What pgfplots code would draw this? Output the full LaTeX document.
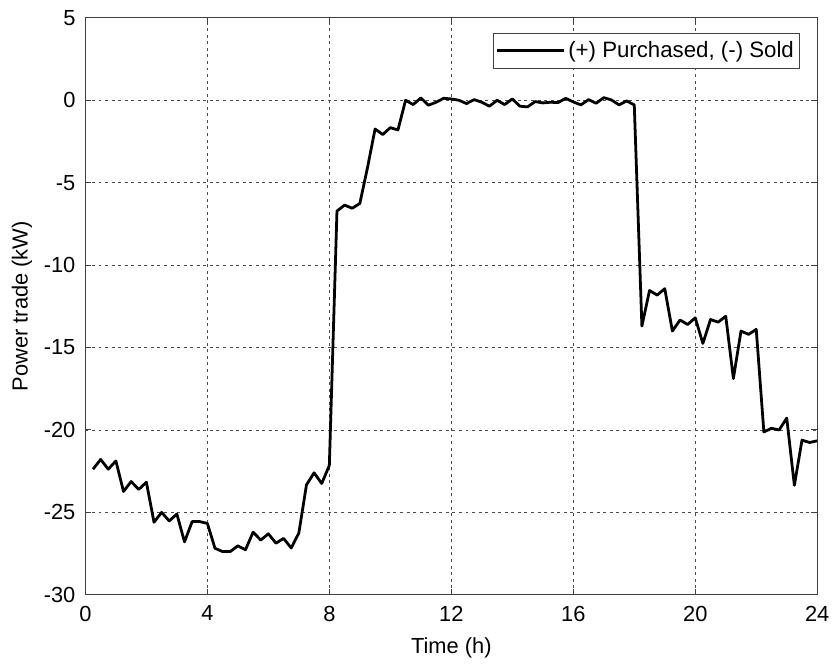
\documentclass[border=0pt]{standalone}
\usepackage{fontspec}
\setmainfont{Liberation Sans}
\usepackage{pgfplots}
\usepackage{pgfplotstable}
\pgfplotsset{compat=1.18}
\pgfplotstableread{
t v
0.25 -22.38
0.5 -21.79
0.75 -22.38
1.0 -21.88
1.25 -23.73
1.5 -23.13
1.75 -23.61
2.0 -23.17
2.25 -25.6
2.5 -25.0
2.75 -25.52
3.0 -25.1
3.25 -26.79
3.5 -25.56
3.75 -25.56
4.0 -25.67
4.25 -27.18
4.5 -27.38
4.75 -27.38
5.0 -27.03
5.25 -27.27
5.5 -26.2
5.75 -26.68
6.0 -26.3
6.25 -26.87
6.5 -26.58
6.75 -27.16
7.0 -26.25
7.25 -23.33
7.5 -22.6
7.75 -23.25
8.0 -22.15
8.25 -6.72
8.5 -6.36
8.75 -6.55
9.0 -6.26
9.25 -4.1
9.5 -1.74
9.75 -2.08
10.0 -1.66
10.25 -1.8
10.5 0.0
10.75 -0.26
11.0 0.14
11.25 -0.3
11.5 -0.12
11.75 0.12
12.0 0.08
12.25 0.0
12.5 -0.2
12.75 0.04
13.0 -0.12
13.25 -0.36
13.5 0.0
13.75 -0.26
14.0 0.08
14.25 -0.36
14.5 -0.4
14.75 -0.08
15.0 -0.16
15.25 -0.12
15.5 -0.14
15.75 0.12
16.0 -0.1
16.25 -0.28
16.5 0.04
16.75 -0.18
17.0 0.16
17.25 0.02
17.5 -0.28
17.75 -0.04
18.0 -0.28
18.25 -13.7
18.5 -11.54
18.75 -11.82
19.0 -11.43
19.25 -14.0
19.5 -13.33
19.75 -13.6
20.0 -13.2
20.25 -14.75
20.5 -13.3
20.75 -13.46
21.0 -13.1
21.25 -16.88
21.5 -14.0
21.75 -14.2
22.0 -13.9
22.25 -20.12
22.5 -19.9
22.75 -20.0
23.0 -19.28
23.25 -23.36
23.5 -20.62
23.75 -20.76
24.0 -20.66
}\datatable
\begin{document}
\begin{tikzpicture}
\begin{axis}[
  name=ax,
  at={(0,0)}, anchor=south west,
  scale only axis,
  width=368.5pt, height=290.5pt,
  xmin=0, xmax=24, ymin=-30, ymax=5,
  xtick={0,4,8,12,16,20,24},
  ytick={-30,-25,-20,-15,-10,-5,0,5},
  /pgf/number format/assume math mode=true,
  tick label style={font=\fontsize{11}{13}\selectfont},
  xticklabel style={yshift=-2pt},
  yticklabel style={xshift=-1.5pt},
  label style={font=\fontsize{11}{13}\selectfont},
  xlabel={Time (h)},
  ylabel={Power trade (kW)},
  xlabel style={yshift=-1.5pt},
  ylabel style={yshift=-1pt},
  tick align=inside,
  major tick length=3pt,
  axis line style={black!75, line width=0.5pt},
  tick style={black!75, line width=0.5pt},
  grid=major,
  grid style={black!70, line width=0.4pt, dash pattern=on 1.5pt off 1.8pt},
  legend style={at={(1,1)}, anchor=north east, xshift=-8.5pt, yshift=-7.5pt,
    draw=black!75, line width=0.5pt, font=\fontsize{11.2}{13}\selectfont,
    inner xsep=1.5pt, inner ysep=2.5pt, nodes={inner sep=1.5pt}},
  legend cell align=left,
  legend image code/.code={\path (0pt,0pt) -- (3.5pt,0pt); \draw[#1] (3.5pt,0pt) -- (33.5pt,0pt);},
]
\addplot[black, line width=1.4pt, line join=round] table[x=t, y=v] {\datatable};
\addlegendentry{(+) Purchased, (-) Sold}
\end{axis}
\path ([xshift=-43pt,yshift=-33.5pt]ax.south west) rectangle ([xshift=6.5pt,yshift=9pt]ax.north east);
\end{tikzpicture}
\end{document}
